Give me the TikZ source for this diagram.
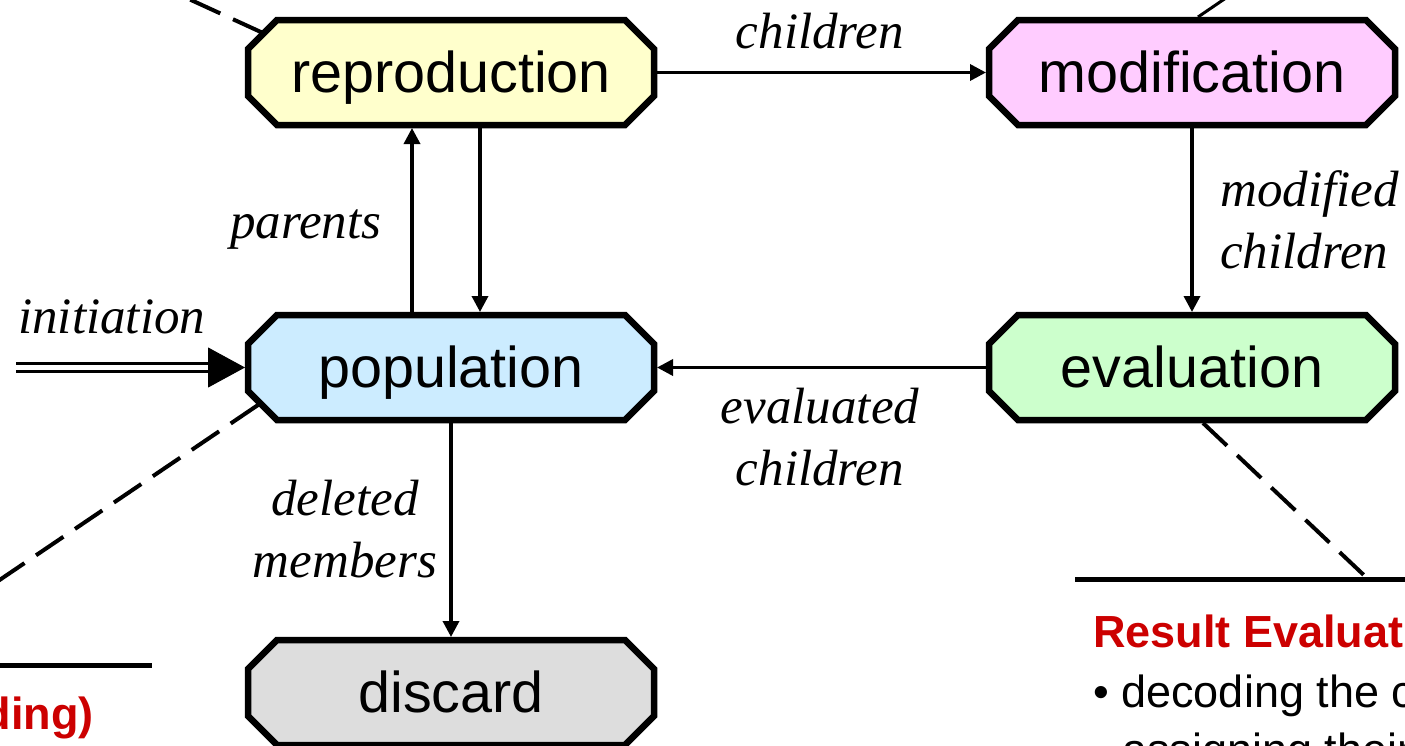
\documentclass[tikz,border=0pt]{standalone}
\usepackage{fontspec}
\setmainfont{Liberation Serif}
\setsansfont{Liberation Sans}
\usetikzlibrary{arrows.meta,calc,backgrounds}

\definecolor{reprofill}{HTML}{FFFFCC}
\definecolor{modfill}{HTML}{FFCCFF}
\definecolor{popfill}{HTML}{CCECFF}
\definecolor{evalfill}{HTML}{CCFFCC}
\definecolor{discfill}{HTML}{DDDDDD}
\definecolor{titlered}{HTML}{CC0000}

\begin{document}
\begin{tikzpicture}[x=1pt,y=-1pt,
  stage/.style={rectangle, minimum width=406pt, minimum height=105pt,
    inner sep=0pt, outer sep=3pt,
    font=\sffamily\fontsize{57.5}{62}\selectfont,
    text height=41pt, text depth=1pt},
  stageline/.style={draw=black, line width=6.5pt, line join=miter},
  flow/.style={line width=3.5pt, -{Triangle[length=16pt,width=16pt]}},
  lbl/.style={font=\itshape\fontsize{51}{62}\selectfont, inner sep=0pt},
  callout/.style={line width=4pt, dash pattern=on 33pt off 14pt},
  rule/.style={line width=5pt},
  heading/.style={font=\sffamily\bfseries\fontsize{45}{58}\selectfont,
    text=titlered, inner sep=0pt},
  body/.style={font=\sffamily\fontsize{45}{58}\selectfont, inner sep=0pt}
]
\useasboundingbox (0,0) rectangle (1405,745);
\clip (0,0) rectangle (1405,745);

% process stages
\node[stage] (repr) at (451,72.5)  {reproduction};
\node[stage] (mod)  at (1192,72.5) {modification};
\node[stage] (pop)  at (451,367.5) {population};
\node[stage] (eval) at (1192,367.5){evaluation};
\node[stage] (disc) at (451,692.5) {discard};

% octagonal outlines behind the stage texts
\begin{scope}[on background layer]
  \foreach \n/\c in {repr/reprofill, mod/modfill, pop/popfill,
                     eval/evalfill, disc/discfill} {
    \draw[stageline, fill=\c]
      ($(\n.center)+(-174,-52.5)$) -- ($(\n.center)+(174,-52.5)$) --
      ($(\n.center)+(203,-23.5)$)  -- ($(\n.center)+(203,23.5)$)  --
      ($(\n.center)+(174,52.5)$)   -- ($(\n.center)+(-174,52.5)$) --
      ($(\n.center)+(-203,23.5)$)  -- ($(\n.center)+(-203,-23.5)$) -- cycle;
  }
\end{scope}

% flows between stages
\draw[flow] (repr.east) -- (mod.west);
\draw[flow] ([xshift=-39pt]pop.north) -- ([xshift=-39pt]repr.south);
\draw[flow] ([xshift=29pt]repr.south) -- ([xshift=29pt]pop.north);
\draw[flow] (mod.south) -- (eval.north);
\draw[flow] (eval.west) -- (pop.east);
\draw[flow] (pop.south) -- (disc.north);

% initiation: double line ending in a large head
\coordinate (init) at (16,367.5);
\draw[line width=3pt, double distance=5pt] (init) -- ($(pop.west)+(-35,0)$);
\draw[line width=1pt, -{Triangle[length=37pt,width=40pt]}]
  ($(pop.west)+(-37,0)$) -- (pop.west);

% flow labels
\node[lbl, anchor=base] (lchild) at (820,48) {children};
\node[lbl, anchor=base west, align=left] (lmod) at (1220,268) {modified\\children};
\node[lbl, anchor=base west] (lpar) at (230,238) {parents};
\node[lbl, anchor=base west] (linit) at (18,333) {initiation};
\node[lbl, anchor=base, align=center] (leval) at (820,485) {evaluated\\children};
\node[lbl, anchor=base, align=center] (ldel) at (345,577) {deleted\\members};

% callout leaders
\coordinate (tlfar) at (-38,-105);
\coordinate (trfar) at (1264,-28);
\coordinate (blfar) at (-30,600);
\coordinate (brjoin) at (1368,579);
\draw[callout] ($(repr.center)+(-188,-39.5)$) -- (tlfar);
\draw[line width=3pt] ([xshift=6pt]mod.north) -- (trfar);
\draw[callout] ($(pop.center)+(-193,37.5)$) -- (blfar);
\draw[callout] ([xshift=11pt]eval.south) -- (brjoin);

% text panels
\coordinate (blrule) at (152,665);
\draw[rule] (-5,665) -- (blrule);
\node[heading, anchor=base east] (enc) at (94,729) {(Encoding)};

\coordinate (brrule) at (1075,579);
\draw[rule] (brrule) -- (1410,579);
\node[heading, anchor=base west] (reshead) at (1093,647) {Result Evaluation};
\node[body, anchor=base west, align=left] (resbody) at (1093,765)
  {• decoding the chromosomes\\\hspace*{29pt}assigning their fitness};
\end{tikzpicture}
\end{document}
